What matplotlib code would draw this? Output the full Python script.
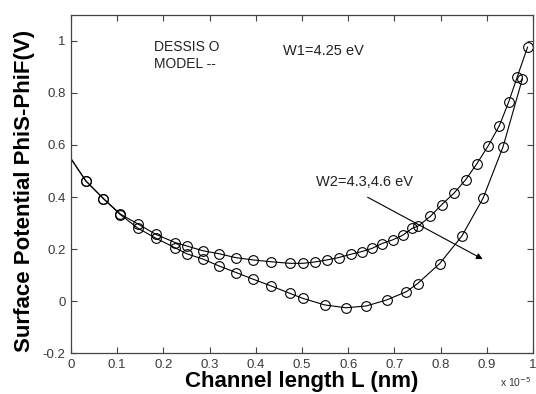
import numpy as np
import matplotlib
matplotlib.use('Agg')
import matplotlib.pyplot as plt
from matplotlib.ticker import FormatStrFormatter

plt.rcParams['font.family'] = ['Liberation Sans', 'DejaVu Sans']

# channel position (x 1e-5) and surface potential (V), W1 = 4.25 eV
x_w1 = [0.0, 0.032, 0.070, 0.107, 0.144, 0.183, 0.225, 0.250, 0.286, 0.320,
        0.356, 0.394, 0.433, 0.473, 0.502, 0.527, 0.554, 0.579, 0.606, 0.629,
        0.651, 0.673, 0.696, 0.718, 0.738, 0.752, 0.778, 0.802, 0.829, 0.854,
        0.878, 0.903, 0.927, 0.947, 0.966, 0.988]
y_w1 = [0.547, 0.462, 0.394, 0.334, 0.297, 0.257, 0.225, 0.212, 0.193, 0.182,
        0.167, 0.158, 0.151, 0.145, 0.145, 0.150, 0.158, 0.167, 0.180, 0.190,
        0.202, 0.221, 0.235, 0.253, 0.279, 0.289, 0.326, 0.370, 0.415, 0.466,
        0.527, 0.597, 0.674, 0.764, 0.863, 0.976]

# W2 = 4.3, 4.6 eV
x_w2 = [0.0, 0.032, 0.070, 0.107, 0.144, 0.183, 0.225, 0.250, 0.286, 0.320,
        0.358, 0.394, 0.433, 0.473, 0.502, 0.549, 0.595, 0.639, 0.683, 0.726,
        0.750, 0.798, 0.846, 0.892, 0.935, 0.977]
y_w2 = [0.547, 0.462, 0.394, 0.332, 0.281, 0.242, 0.205, 0.182, 0.161, 0.135,
        0.109, 0.084, 0.058, 0.030, 0.010, -0.015, -0.026, -0.019, 0.004, 0.036,
        0.067, 0.144, 0.250, 0.396, 0.593, 0.855]

xticks = [0, 0.1, 0.2, 0.3, 0.4, 0.5, 0.6, 0.7, 0.8, 0.9, 1]
yticks = [-0.2, 0, 0.2, 0.4, 0.6, 0.8, 1]

fig = plt.figure(figsize=(5.36, 3.94), dpi=100)
ax = fig.add_axes([0.1325, 0.104, 0.862, 0.858])

for xs, ys in [(x_w1, y_w1), (x_w2, y_w2)]:
    ax.plot(xs, ys, color='black', lw=0.8, marker='o', ms=7,
            mfc='none', mec='black', mew=0.8, markevery=slice(1, None))

ax.set_xlim(0, 1)
ax.set_ylim(-0.2, 1.1)
ax.set_xticks(xticks)
ax.set_yticks(yticks)
ax.xaxis.set_major_formatter(FormatStrFormatter('%g'))
ax.yaxis.set_major_formatter(FormatStrFormatter('%g'))
ax.tick_params(direction='in', top=True, right=True, length=4, width=0.8,
               labelsize=9.5, labelcolor='#3a3a3a', colors='#444444', pad=4)
for s in ax.spines.values():
    s.set_color('#444444')
    s.set_linewidth(0.9)

ax.set_xlabel('Channel length L (nm)', fontsize=16, fontweight='bold', labelpad=0)
ax.set_ylabel('Surface Potential PhiS-PhiF(V)', fontsize=16, fontweight='bold')
ax.yaxis.set_label_coords(-0.078, 0.48)

ax.text(0.18, 0.976, 'DESSIS O', fontsize=10, color='#222222', ha='left', va='center')
ax.text(0.18, 0.912, 'MODEL --', fontsize=10, color='#222222', ha='left', va='center')
ax.text(0.547, 0.963, 'W1=4.25 eV', fontsize=10.5, color='#222222', ha='center', va='center')
ax.text(0.531, 0.456, 'W2=4.3,4.6 eV', fontsize=10.5, color='#222222', ha='left', va='center')
ax.annotate('', xy=(0.891, 0.161), xytext=(0.642, 0.399),
            arrowprops=dict(arrowstyle='-|>', color='black', lw=0.8,
                            mutation_scale=9, shrinkA=0, shrinkB=0))

fig.text(0.933, 0.013, r'x 10$^{-5}$', fontsize=7.5, color='#333333', ha='left', va='bottom')

fig.savefig('out.png', dpi=100)
